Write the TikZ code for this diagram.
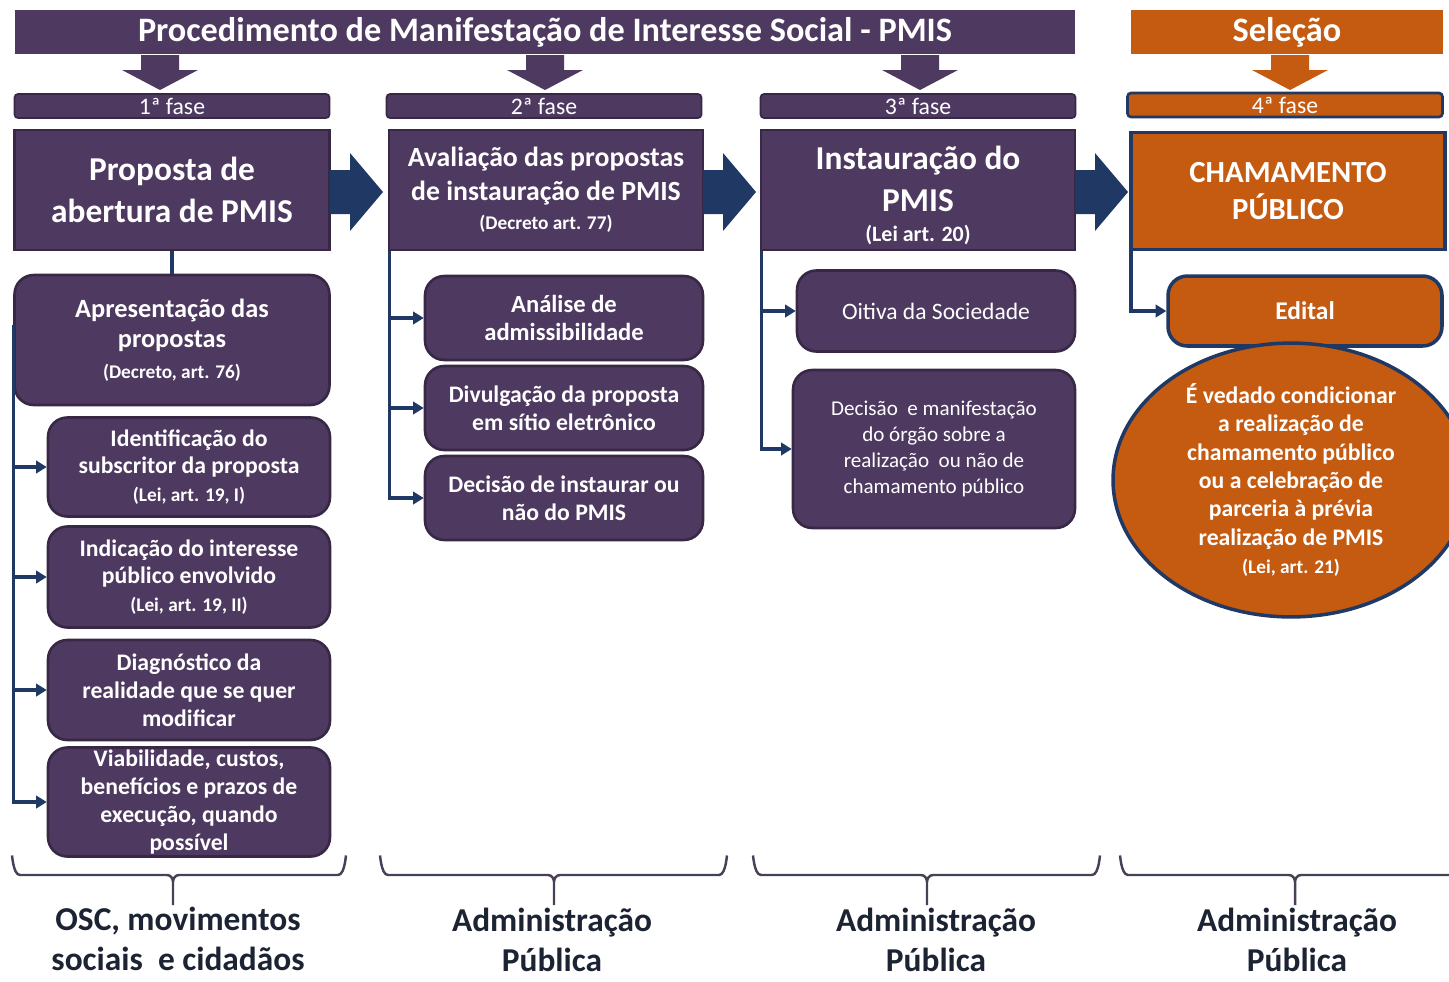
\documentclass[tikz,border=0pt]{standalone}
\usepackage{fontspec}
\setmainfont{Carlito}
\usetikzlibrary{arrows.meta,positioning,calc,shapes.geometric}
\definecolor{pmisPurple}{RGB}{78,57,96}
\definecolor{pmisDark}{RGB}{56,40,70}
\definecolor{pmisOrange}{RGB}{197,90,17}
\definecolor{pmisNavy}{RGB}{31,56,100}
\definecolor{pmisText}{RGB}{28,36,52}
\definecolor{braceGray}{RGB}{74,64,86}
\begin{document}
\begin{tikzpicture}[x=0.02cm, y=-0.02cm]
  % Estilos
  \tikzset{
    bar/.style={rectangle, fill=pmisPurple, text=white, inner sep=0pt,
      font=\bfseries\fontsize{19.5}{22}\selectfont},
    fase/.style={rectangle, rounded corners=2pt, fill=pmisPurple, draw=pmisDark, line width=1pt,
      text=white, inner sep=0pt, minimum width=6.3cm, minimum height=0.48cm,
      font=\fontsize{13.5}{14}\selectfont},
    mainbox/.style={rectangle, fill=pmisPurple, draw=pmisDark, line width=1.2pt, text=white,
      align=center, inner sep=0pt, minimum width=6.28cm, minimum height=2.4cm,
      font=\bfseries\fontsize{19}{23.5}\selectfont},
    subbox/.style={rectangle, rounded corners=11pt, fill=pmisPurple, draw=pmisDark, line width=1.5pt,
      text=white, align=center, inner sep=0pt, minimum width=5.64cm,
      font=\bfseries\fontsize{13.5}{15.8}\selectfont},
    conn/.style={draw=pmisNavy, line width=1.8pt, -{Triangle[length=6pt,width=7pt]}},
    trunk/.style={draw=pmisNavy, line width=1.8pt},
    brace/.style={draw=braceGray, line width=1.4pt},
    who/.style={text=pmisText, align=center, inner sep=0pt, font=\bfseries\fontsize{19}{23}\selectfont}
  }
  \newcommand{\refsize}{\fontsize{11}{13}\selectfont}
  \clip (0,0) rectangle (1449,981);
  \fill[white] (0,0) rectangle (1449,981);

  %================= CABEÇALHOS =================
  \node[bar, minimum width=21.2cm, minimum height=0.9cm] (titulo) at (545,32)
    {Procedimento de Manifestação de Interesse Social - PMIS};
  \node[bar, fill=pmisOrange, minimum width=6.26cm, minimum height=0.9cm] (selecao) at (1287,32) {Seleção};

  % Setas para baixo
  \foreach \x in {160,545,920}
    \fill[pmisPurple] (\x-19,55) -- (\x+19,55) -- (\x+19,70) -- (\x+38,70) -- (\x,90)
      -- (\x-38,70) -- (\x-19,70) -- cycle;
  \fill[pmisOrange] (1271,55) -- (1309,55) -- (1309,70) -- (1328,70) -- (1290,90)
      -- (1252,70) -- (1271,70) -- cycle;

  %================= FASES =================
  \node[fase] (fase1) at (172,106) {1ª fase};
  \node[fase] (fase2) at (544,106) {2ª fase};
  \node[fase] (fase3) at (918,106) {3ª fase};
  \node[fase, fill=pmisOrange, draw=pmisNavy, line width=1.5pt] (fase4) at (1285,105) {4ª fase};

  %================= CAIXAS PRINCIPAIS =================
  \node[mainbox, minimum width=6.3cm] (proposta) at (172,190) {Proposta de\\abertura de PMIS};
  \node[mainbox, font=\bfseries\fontsize{15.8}{19}\selectfont] (avaliacao) at (546,190)
    {Avaliação das propostas\\de instauração de PMIS\\[-2pt]{\refsize(Decreto art. 77)}};
  \node[mainbox] (instauracao) at (918,190)
    {\rule{0pt}{20pt}Instauração do\\PMIS\\[-6pt]{\fontsize{12.5}{14}\selectfont (Lei art. 20)}};
  \node[mainbox, fill=pmisOrange, draw=pmisNavy, line width=2pt, minimum height=2.34cm,
    font=\bfseries\fontsize{17.5}{21}\selectfont] (chamamento) at (1288,191) {CHAMAMENTO\\PÚBLICO};

  % Setas entre as caixas
  \foreach \x in {330,703,1075}
    \fill[pmisNavy] (\x,170) -- (\x+20,170) -- (\x+20,153) -- (\x+53,192) -- (\x+20,231)
      -- (\x+20,214) -- (\x,214) -- cycle;

  %================= 1ª FASE =================
  \node[subbox, minimum width=6.3cm, minimum height=2.6cm, font=\bfseries\fontsize{15}{17.5}\selectfont]
    (apresentacao) at (172,340)
    {Apresentação das\\propostas\\{\refsize(Decreto, art. 76)}};
  \node[subbox, minimum height=1.98cm] (identificacao) at (189,467)
    {Identificação do\\subscritor da proposta\\{\refsize(Lei, art. 19, I)}};
  \node[subbox, minimum height=2.02cm] (indicacao) at (189,577)
    {Indicação do interesse\\público envolvido\\{\refsize(Lei, art. 19, II)}};
  \node[subbox, minimum height=2.0cm] (diagnostico) at (189,690)
    {Diagnóstico da\\realidade que se quer\\modificar};
  \node[subbox, minimum height=2.18cm] (viabilidade) at (189,802)
    {Viabilidade, custos,\\benefícios e prazos de\\execução, quando\\possível};

  \draw[trunk] (proposta.south) -- (apresentacao.north);
  \foreach \n in {identificacao,indicacao,diagnostico,viabilidade}
    \draw[conn] ([yshift=0.3cm]apresentacao.west) |- (\n.west);

  %================= 2ª FASE =================
  \node[subbox, minimum width=5.56cm, minimum height=1.68cm, font=\bfseries\fontsize{14}{16}\selectfont]
    (analise) at (564,318) {Análise de\\admissibilidade};
  \node[subbox, minimum width=5.56cm, minimum height=1.68cm] (divulgacao) at (564,408)
    {Divulgação da proposta\\em sítio eletrônico};
  \node[subbox, minimum width=5.56cm, minimum height=1.68cm] (decisao) at (564,498)
    {Decisão de instaurar ou\\não do PMIS};

  \foreach \n in {analise,divulgacao,decisao}
    \draw[conn] ([xshift=1pt]avaliacao.south west) |- (\n.west);

  %================= 3ª FASE =================
  \node[subbox, minimum width=5.56cm, minimum height=1.62cm, font=\fontsize{13.4}{16}\selectfont]
    (oitiva) at (936,311) {Oitiva da Sociedade};
  \node[subbox, minimum height=3.16cm, font=\fontsize{12}{14.8}\selectfont] (manifestacao) at (934,449)
    {Decisão \ e manifestação\\do órgão sobre a\\realização \ ou não de\\chamamento público};

  \foreach \n in {oitiva,manifestacao}
    \draw[conn] ([xshift=1pt]instauracao.south west) |- (\n.west);

  %================= 4ª FASE =================
  \node[subbox, fill=pmisOrange, draw=pmisNavy, line width=2pt, minimum width=5.48cm,
    minimum height=1.4cm, font=\bfseries\fontsize{14.5}{17}\selectfont] (edital) at (1305,311) {Edital};
  \draw[conn] ([xshift=1pt]chamamento.south west) |- (edital.west);

  \node[ellipse, fill=pmisOrange, draw=pmisNavy, line width=2pt, minimum width=7.12cm,
    minimum height=4.6cm, inner sep=0pt, text=white, align=center,
    font=\bfseries\fontsize{13.5}{16.2}\selectfont] (vedado) at (1291,480)
    {É vedado condicionar\\a realização de\\chamamento público\\ou a celebração de\\parceria à prévia\\realização de PMIS\\{\refsize(Lei, art. 21)}};

  %================= CHAVES E RESPONSÁVEIS =================
  \foreach \a/\c/\b in {12/173/346, 380/554/727, 753/927/1100, 1120/1295/1470}
    \draw[brace] (\a,857) to[out=90,in=180] (\a+8,875) -- (\c-6,875) to[out=0,in=90] (\c,882) -- (\c,905)
      (\c,882) to[out=90,in=180] (\c+6,875) -- (\b-8,875) to[out=0,in=90] (\b,857);

  \node[who] (osc) at (178,939) {OSC, movimentos\\sociais \ e cidadãos};
  \node[who] (adm2) at (552,940) {Administração\\Pública};
  \node[who] (adm3) at (936,940) {Administração\\Pública};
  \node[who] (adm4) at (1297,940) {Administração\\Pública};
\end{tikzpicture}
\end{document}
